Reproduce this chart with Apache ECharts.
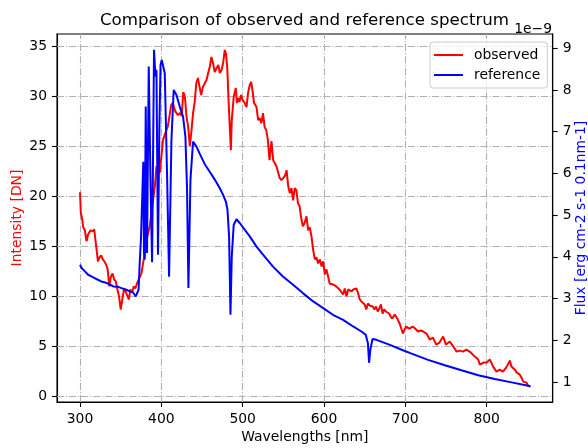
<!DOCTYPE html>
<html><head><meta charset="utf-8">
<script src="https://cdn.jsdelivr.net/npm/echarts@6/dist/echarts.min.js"></script>
<style>html,body{margin:0;padding:0;background:#fff}#c{width:588px;height:448px}</style>
</head><body><div id="c"></div>
<script>
// observed spectrum (wavelength nm, intensity DN)
const obsWavelength = [
 300,301,302.5,304,306,308,310,313,316,317.5,
 319,320.5,322,324,326,328,330,332,334,336,
 338,340,342,344,346,348,350,352,354,356,
 358,360,362,364,366,368,370,372,375.5,379.6,
 381.7,385.7,387.8,392,394,398,402,404,406,408,
 410,412,414,417,420.5,423,425,427,429,431,
 433,435,437,439,441,443,445,447,449,451,
 453,455.5,457,459.5,461.6,463.5,465.7,468,470,472,
 474,476,478,479.5,481,483,485.5,486.6,489,491.5,
 493,494.5,496,498,500,502,504.7,506.6,508.7,510.5,
 512,514,517,519,521,523,525,527,529,531,
 533,535.4,537.5,539.5,541.5,543.5,545.6,547.7,551.8,554,
 556,558,560,562,564,566,568,570,572,574,
 576,578.5,580.5,582.5,584.6,586.6,588.7,590.7,592.7,595,
 597,599,601,603,605,607,611,615,619,621,
 623.5,625.5,627.7,629.7,631.7,634,636,638,640,642,
 644,646,648,650,652,654,656,660,662,664,
 666,668,670,672,674,676,678,680,682,684,
 687,690,693,697,699,701,705,709,712,715.6,
 719,722,726,730,734,738,742,746.5,750,754.7,
 759,763,767,771,775,779,783,785.5,789.6,791.6,
 796,800,804,808,812,816,820,824,828.5,830.5,
 834.7,837,840.8,842.9,845,849,851,853
];
const obsIntensity = [
 20.4,18.3,17.8,16.9,16.6,15.5,16.2,16.6,16.5,16.7,
 15.6,14.6,13.5,13.9,14.1,13.7,13.5,13.2,12.7,11.0,
 12.0,12.3,11.7,11.5,10.7,10.0,8.7,9.7,10.7,10.5,
 10.1,9.7,10.7,10.4,11.0,10.8,11.3,11.2,12.3,14.3,
 15.6,17.0,18.3,21.0,23.0,22.3,25.6,26.1,26.0,27.0,
 28.0,29.1,29.3,28.5,28.1,28.3,28.0,30.4,29.9,27.9,
 26.9,25.0,26.5,28.3,29.4,31.3,31.8,30.9,30.1,30.9,
 31.2,31.6,32.1,32.9,33.9,33.3,32.4,32.8,33.1,32.3,
 32.6,33.3,34.6,34.2,32.9,28.9,24.6,27.6,29.9,30.8,
 29.3,29.8,29.4,30.1,29.6,29.4,28.9,30.3,31.1,31.4,
 30.6,29.3,28.9,27.6,27.8,27.3,28.3,26.9,26.6,25.6,
 23.6,25.5,23.6,23.5,23.0,23.0,21.8,21.6,22.0,22.6,
 21.0,20.3,20.8,19.6,20.8,20.6,19.3,19.0,17.8,17.0,
 17.3,18.0,16.6,16.9,16.0,14.7,13.7,13.9,13.3,13.7,
 13.0,13.5,12.2,12.7,12.0,11.3,11.2,11.0,10.7,10.5,
 10.2,10.8,10.0,10.7,10.8,10.5,10.7,10.6,10.8,10.3,
 9.7,9.5,9.6,9.2,8.7,9.3,9.1,9.0,8.7,9.0,
 8.5,8.8,9.2,8.3,8.7,8.5,8.6,8.3,8.0,7.8,
 8.2,7.8,7.3,6.3,6.7,7.0,6.8,7.0,6.8,6.5,
 6.6,6.5,6.3,5.7,5.9,5.2,5.4,6.0,5.2,5.5,
 5.0,4.5,4.6,4.5,4.7,4.5,4.2,4.0,3.7,3.2,
 3.4,3.4,3.7,3.0,2.5,2.7,2.5,2.9,3.6,3.0,
 2.7,2.4,2.2,1.9,1.5,1.4,1.1,1.0
];
// reference spectrum (wavelength nm, flux in units of 1e-9)
const refWavelength = [
 300,302,306,310,314,318,322,326,330,333,
 337,341,347,351,357,361,365,368.5,370,372,
 373.4,375,376.5,377.8,378.7,379.6,380.8,382.4,383,384.5,
 386.5,388.6,391,392.7,394,395.9,397.5,399,400.5,402,
 404.2,407,409.5,412.4,415.2,418.6,422.6,426.7,429.6,431.6,
 433.3,435.8,439,443.2,447,453.4,459.5,465.7,471.7,475.8,
 479.2,481.3,483.3,485,486.6,489,492.4,496.4,502.5,508.7,
 516.8,525,537,549.5,562,574,586.7,599,611,623.5,
 635.8,646,651.3,654,655.4,657,659.6,664.5,681,697,
 707.7,728,748.6,769,789.7,810,830.7,851,854
];
const refFlux = [
 3.81,3.73,3.65,3.57,3.53,3.49,3.45,3.41,3.39,3.37,
 3.33,3.29,3.28,3.25,3.21,3.17,3.15,3.05,3.01,3.21,
 3.85,4.46,4.50,6.28,4.09,3.93,7.60,4.09,4.05,8.56,
 6.0,3.87,8.96,8.32,8.48,4.05,7.0,8.6,8.72,8.68,
 8.40,6.0,3.52,6.80,8.0,7.88,7.60,7.36,6.88,5.61,
 3.25,5.85,6.76,6.64,6.48,6.22,6.04,5.85,5.65,5.49,
 5.33,5.13,4.49,2.61,4.01,4.77,4.90,4.81,4.65,4.49,
 4.25,4.05,3.77,3.53,3.33,3.13,2.93,2.77,2.61,2.49,
 2.33,2.21,2.13,1.93,1.46,1.77,2.03,2.01,1.89,1.76,
 1.68,1.53,1.40,1.28,1.16,1.07,0.99,0.91,0.89
];
const xTicks = [300, 400, 500, 600, 700, 800];
const leftTicks = [0, 5, 10, 15, 20, 25, 30, 35];
const rightTicks = [1, 2, 3, 4, 5, 6, 7, 8, 9];

const FONT = 'DejaVu Sans';
const FS = 13.9;
const gridLine = { color: '#b0b0b0', width: 1.1, type: [7, 2, 1.1, 2] };

const chart = echarts.init(document.getElementById('c'), null, { renderer: 'canvas' });
chart.setOption({
  animation: false,
  backgroundColor: '#fff',
  textStyle: { fontFamily: FONT },
  title: {
    text: 'Comparison of observed and reference spectrum',
    left: 299.5, top: 7, textAlign: 'center',
    textStyle: { fontFamily: FONT, fontSize: 16.67, fontWeight: 'normal', color: '#000' }
  },
  graphic: [{
    type: 'text', right: 36, top: 22,
    style: { text: '1e\u22129', font: FS + 'px "DejaVu Sans"', fill: '#000' }
  }],
  legend: {
    orient: 'vertical', left: 430, top: 42,
    data: ['observed', 'reference'],
    icon: 'rect', itemWidth: 29, itemHeight: 2, itemGap: 6,
    padding: [6, 7, 6, 4],
    backgroundColor: 'rgba(255,255,255,0.8)', borderColor: '#cccccc', borderWidth: 1, borderRadius: 3,
    textStyle: { fontFamily: FONT, fontSize: FS, color: '#000', padding: [0, 0, 0, 6] }
  },
  grid: { left: 57, right: 35.3, top: 34, bottom: 46, containLabel: false, outerBoundsMode: 'none',
          show: true, borderColor: '#000', borderWidth: 1.1, backgroundColor: 'transparent' },
  xAxis: {
    type: 'value', min: 271.7, max: 881.2,
    name: 'Wavelengths [nm]', nameLocation: 'middle', nameGap: 28, nameMoveOverlap: false,
    nameTextStyle: { fontFamily: FONT, fontSize: FS, color: '#000' },
    axisLine: { show: true, onZero: false, lineStyle: { color: '#000', width: 1.1 } },
    axisTick: { show: true, length: 5, customValues: xTicks, lineStyle: { color: '#000', width: 1.1 } },
    axisLabel: { customValues: xTicks, margin: 10, fontFamily: FONT, fontSize: FS, color: '#000' },
    splitLine: { show: false }
  },
  yAxis: [{
    type: 'value', position: 'left', min: -0.53, max: 36.19,
    name: 'Intensity [DN]', nameLocation: 'middle', nameGap: 33, nameRotate: 90, nameMoveOverlap: false,
    nameTextStyle: { fontFamily: FONT, fontSize: FS, color: '#ff0000' },
    axisLine: { show: true, onZero: false, lineStyle: { color: '#000', width: 1.1 } },
    axisTick: { show: true, length: 5, customValues: leftTicks, lineStyle: { color: '#000', width: 1.1 } },
    axisLabel: { customValues: leftTicks, margin: 10, fontFamily: FONT, fontSize: FS, color: '#000' },
    splitLine: { show: false }
  }, {
    type: 'value', position: 'right', min: 0.52, max: 9.34,
    name: 'Flux [erg cm-2 s-1 0.1nm-1]', nameLocation: 'middle', nameGap: 22, nameRotate: 90, nameMoveOverlap: false,
    nameTextStyle: { fontFamily: FONT, fontSize: FS, color: '#0000ff' },
    axisLine: { show: true, onZero: false, lineStyle: { color: '#000', width: 1.1 } },
    axisTick: { show: true, length: 5, customValues: rightTicks, lineStyle: { color: '#000', width: 1.1 } },
    axisLabel: { customValues: rightTicks, margin: 10, fontFamily: FONT, fontSize: FS, color: '#000' },
    splitLine: { show: false }
  }],
  series: [{
    name: 'observed', type: 'line', yAxisIndex: 0, z: 2,
    data: obsWavelength.map((w, i) => [w, obsIntensity[i]]),
    showSymbol: false, symbol: 'none',
    lineStyle: { color: '#ff0000', width: 2 }, itemStyle: { color: '#ff0000' },
    markLine: {
      z: 1, silent: true, symbol: 'none', label: { show: false },
      lineStyle: gridLine, animation: false,
      data: xTicks.map(v => ({ xAxis: v })).concat(leftTicks.map(v => ({ yAxis: v })))
    }
  }, {
    name: 'reference', type: 'line', yAxisIndex: 1, z: 3,
    data: refWavelength.map((w, i) => [w, refFlux[i]]),
    showSymbol: false, symbol: 'none',
    lineStyle: { color: '#0000ff', width: 2 }, itemStyle: { color: '#0000ff' }
  }]
});
</script>
</body></html>
